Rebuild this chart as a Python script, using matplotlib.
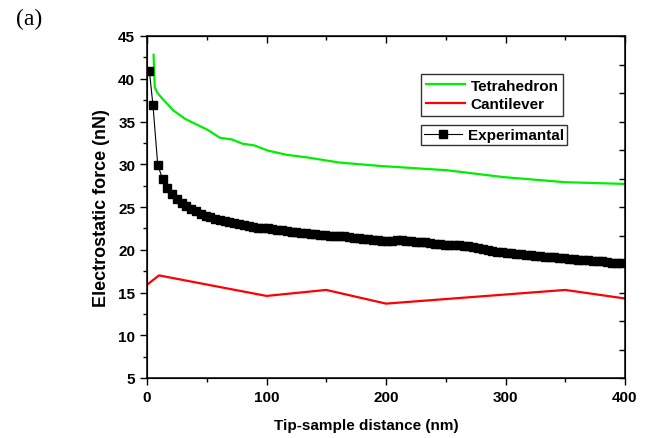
import matplotlib
matplotlib.use("Agg")
import matplotlib.pyplot as plt
from matplotlib.ticker import MultipleLocator

# ---- data ----
tetra_x = [5.5, 6.5, 8.5, 12, 22, 32, 51, 61, 71, 80, 90, 101, 117, 134, 161, 195, 251, 298, 350, 400]
tetra_y = [42.8, 39.0, 38.4, 37.8, 36.3, 35.3, 34.0, 33.1, 32.9, 32.4, 32.2, 31.6, 31.1, 30.8, 30.2, 29.8, 29.3, 28.5, 27.9, 27.7]

cant_x = [0, 10, 100, 150, 200, 350, 400]
cant_y = [15.9, 17.0, 14.6, 15.3, 13.7, 15.3, 14.3]

exp_x = [2, 5, 9, 13, 17, 21, 25, 29, 33, 37, 41, 45, 49, 53, 57, 61, 65, 69, 73, 77,
         81, 85, 89, 93, 97, 101, 105, 109, 113, 117, 121, 125, 129, 133, 137, 141, 145, 149, 153, 157,
         161, 165, 169, 173, 177, 181, 185, 189, 193, 197, 201, 205, 209, 213, 217, 221, 225, 229, 233, 237,
         241, 245, 249, 253, 257, 261, 265, 269, 273, 277, 281, 285, 289, 293, 297, 301, 305, 309, 313, 317,
         321, 325, 329, 333, 337, 341, 345, 349, 353, 357, 361, 365, 369, 373, 377, 381, 385, 389, 393, 397]
exp_y = [40.9, 36.9, 29.9, 28.3, 27.2, 26.5, 25.9, 25.5, 25.1, 24.8, 24.5, 24.2, 24.0, 23.8, 23.6, 23.45, 23.35, 23.25, 23.15, 23.0,
         22.9, 22.8, 22.7, 22.6, 22.55, 22.5, 22.4, 22.35, 22.3, 22.2, 22.1, 22.05, 22.0, 21.95, 21.9, 21.85, 21.75, 21.7, 21.65, 21.6,
         21.6, 21.55, 21.5, 21.4, 21.35, 21.3, 21.2, 21.15, 21.1, 21.05, 21.0, 21.05, 21.1, 21.1, 21.05, 21.0, 20.95, 20.9, 20.85, 20.8,
         20.7, 20.65, 20.6, 20.55, 20.5, 20.5, 20.45, 20.4, 20.35, 20.25, 20.1, 19.95, 19.85, 19.75, 19.7, 19.65, 19.6, 19.5, 19.45, 19.4,
         19.35, 19.3, 19.25, 19.2, 19.15, 19.1, 19.05, 19.0, 18.95, 18.9, 18.85, 18.8, 18.75, 18.7, 18.7, 18.65, 18.6, 18.5, 18.45, 18.4]

xlabel = "Tip-sample distance (nm)"
ylabel = "Electrostatic force (nN)"

plt.rcParams['font.family'] = ['Liberation Sans', 'DejaVu Sans']
plt.rcParams['font.weight'] = 'bold'

fig = plt.figure(figsize=(6.54, 4.39), dpi=100)
ax = fig.add_axes([147/654, 1-379/439, (625-147)/654, (379-37)/439])

l1, = ax.plot(tetra_x, tetra_y, color='#00ee00', lw=1.6, label='Tetrahedron')
l2, = ax.plot(cant_x, cant_y, color='#ff0000', lw=1.6, label='Cantilever')
l3, = ax.plot(exp_x, exp_y, color='black', lw=0.8, marker='s', markersize=5.8, label='Experimantal')

ax.set_xlim(0, 400)
ax.set_ylim(5, 45)
ax.xaxis.set_major_locator(MultipleLocator(100))
ax.xaxis.set_minor_locator(MultipleLocator(50))
ax.yaxis.set_major_locator(MultipleLocator(5))
ax.yaxis.set_minor_locator(MultipleLocator(2.5))
ax.tick_params(which='both', direction='out', top=False, right=False, labelsize=11, width=1)
ax.tick_params(which='major', length=5)
ax.tick_params(which='minor', length=3)
for lab in ax.get_xticklabels() + ax.get_yticklabels():
    lab.set_fontweight('bold')
for s in ax.spines.values():
    s.set_linewidth(1.1)

# top ticks inward
sec = ax.secondary_xaxis('top')
sec.xaxis.set_major_locator(MultipleLocator(100))
sec.xaxis.set_minor_locator(MultipleLocator(50))
sec.tick_params(which='both', direction='in', labeltop=False, width=1)
sec.tick_params(which='major', length=5)
sec.tick_params(which='minor', length=3)

# right ticks inward (separate layer scale)
tw = ax.twinx()
tw.set_ylim(0, 12)
tw.yaxis.set_major_locator(MultipleLocator(1))
tw.tick_params(which='both', direction='in', labelright=False, length=4, width=1)

ax.set_xlabel(xlabel, fontsize=11, fontweight='bold')
ax.xaxis.set_label_coords((366-147)/478, (379-419)/342)
ax.set_ylabel(ylabel, fontsize=13, fontweight='bold')
ax.yaxis.label.set_va('center')
ax.yaxis.set_label_coords((101-147)/478, 0.5)

leg1 = fig.legend(handles=[l1, l2], loc='upper left', bbox_to_anchor=(421/654, 1-75/439),
                  frameon=True, fancybox=False, edgecolor='black',
                  handlelength=2.6, handletextpad=0.35, borderpad=0.3, labelspacing=0.3,
                  borderaxespad=0, prop={'weight': 'bold', 'size': 11})
leg1.get_frame().set_linewidth(1.0)
leg2 = fig.legend(handles=[l3], loc='upper left', bbox_to_anchor=(421/654, 1-126/439),
                  frameon=True, fancybox=False, edgecolor='black',
                  handlelength=2.5, handletextpad=0.35, borderpad=0.2,
                  borderaxespad=0, prop={'weight': 'bold', 'size': 11})
leg2.get_frame().set_linewidth(1.0)

fig.text(16/654, 1-9/439, "(a)", fontsize=17, family=['Liberation Serif'], fontweight='normal', va='top', ha='left')

fig.savefig("out.png", dpi=100)
